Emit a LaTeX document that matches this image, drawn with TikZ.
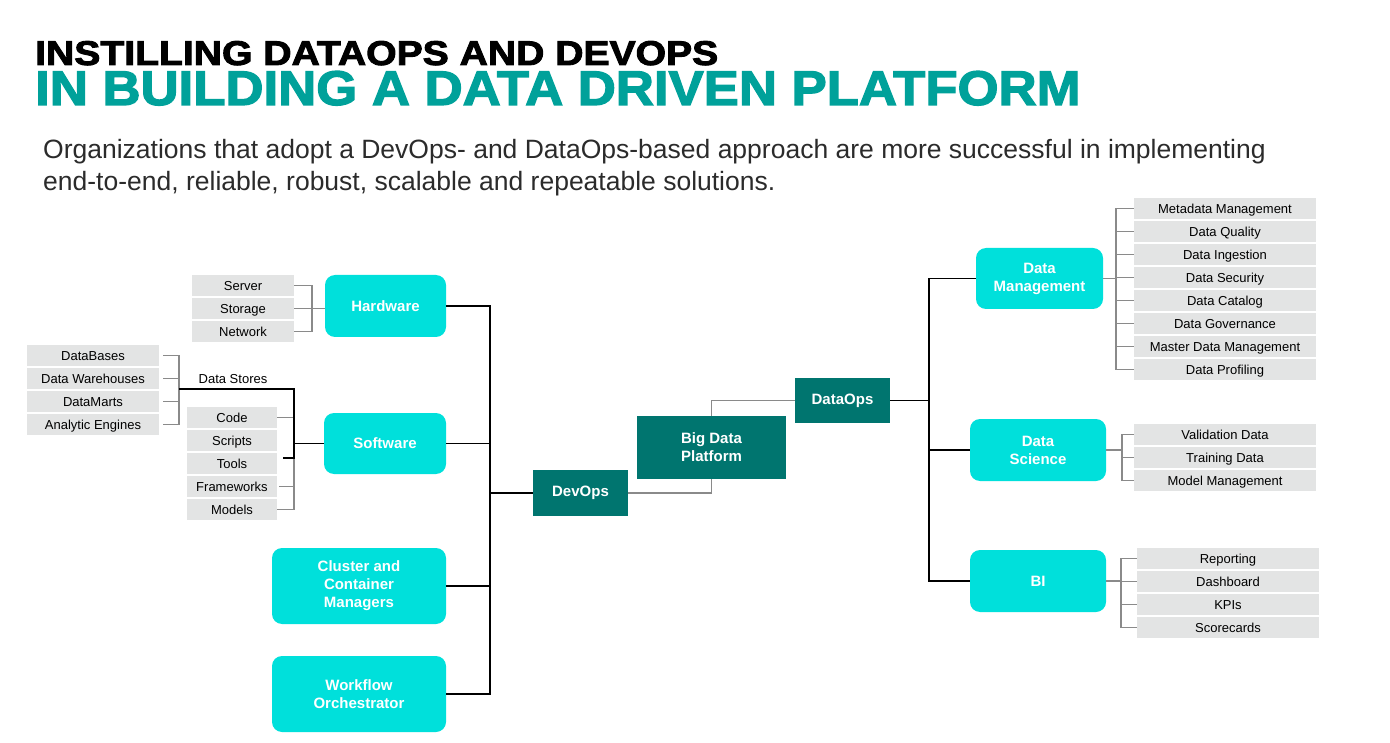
\documentclass[tikz,border=0pt]{standalone}
\usepackage{fontspec}
\setmainfont{Liberation Sans}
\newfontfamily\heavyfont[FakeBold=2.5]{Liberation Sans Bold}
\definecolor{cyanbox}{HTML}{00E0DB}
\definecolor{tealbox}{HTML}{00756F}
\definecolor{titleteal}{HTML}{00A19A}
\definecolor{itemgray}{HTML}{E3E4E4}
\definecolor{linegray}{HTML}{8A8A8A}
\definecolor{bodytext}{HTML}{2B2B2B}

\begin{document}
\begin{tikzpicture}[x=1pt,y=-1pt,
  mainbox/.style={fill=cyanbox,rounded corners=10pt,text=white,align=center,inner sep=0pt,font=\fontsize{15}{18}\selectfont\bfseries},
  opsbox/.style={fill=tealbox,text=white,align=center,inner sep=0pt,font=\fontsize{15}{18}\selectfont\bfseries},
  itembox/.style={fill=itemgray,minimum height=21pt,inner sep=0pt,text height=11.3pt,text depth=2pt,font=\fontsize{13}{15}\selectfont},
  gline/.style={draw=linegray,line width=1.1pt},
  bline/.style={draw=black,line width=1.4pt}]
\path[use as bounding box] (0,0) rectangle (1390,743);
% title and lead text
\node[anchor=base west,inner sep=0pt] (title1) at (35,65) {\resizebox{683pt}{24pt}{\heavyfont INSTILLING DATAOPS AND DEVOPS}};
\node[anchor=base west,inner sep=0pt,text=titleteal] (title2) at (35,105) {\resizebox{1045pt}{34pt}{\heavyfont IN BUILDING A DATA DRIVEN PLATFORM}};
\node[anchor=base west,inner sep=0pt,text=bodytext,font=\fontsize{26.5}{32}\selectfont] (lead1) at (43,159) {Organizations that adopt a DevOps- and DataOps-based approach are more successful in implementing};
\node[anchor=base west,inner sep=0pt,text=bodytext,font=\fontsize{26.5}{32}\selectfont] (lead2) at (43,191) {end-to-end, reliable, robust, scalable and repeatable solutions.};
% DevOps side
\node[mainbox,minimum width=121pt,minimum height=62pt] (hw) at (385.5,306) {Hardware};
\node[mainbox,minimum width=122pt,minimum height=61pt] (sw) at (385,443.5) {Software};
\node[mainbox,minimum width=174pt,minimum height=76pt] (cl) at (359,586) {Cluster and\\Container\\Managers};
\node[mainbox,minimum width=174pt,minimum height=76pt] (wf) at (359,694) {Workflow\\Orchestrator};
\node[itembox,minimum width=102pt] (hw1) at (243,285.5) {Server};
\node[itembox,minimum width=102pt] (hw2) at (243,308.5) {Storage};
\node[itembox,minimum width=102pt] (hw3) at (243,331.5) {Network};
\node[itembox,minimum width=132pt] (st1) at (93,355.5) {DataBases};
\node[itembox,minimum width=132pt] (st2) at (93,378.5) {Data Warehouses};
\node[itembox,minimum width=132pt] (st3) at (93,401.5) {DataMarts};
\node[itembox,minimum width=132pt] (st4) at (93,424.5) {Analytic Engines};
\node[itembox,minimum width=90pt] (sw1) at (232,417.5) {Code};
\node[itembox,minimum width=90pt] (sw2) at (232,440.5) {Scripts};
\node[itembox,minimum width=90pt] (sw3) at (232,463.5) {Tools};
\node[itembox,minimum width=90pt] (sw4) at (232,486.5) {Frameworks};
\node[itembox,minimum width=90pt] (sw5) at (232,509.5) {Models};
\coordinate (hwj) at (312,308.5);
\coordinate (stj) at (179,389);
\coordinate (swj) at (294,443.5);
\coordinate (swk) at (294,458);
\coordinate (dvj) at (490,493);
\draw[gline] (hw1.east) -| (hwj);
\draw[gline] (hw3.east) -| (hwj);
\draw[gline] (hw2.east) -- (hwj) -- (hwj -| hw.west);
\draw[gline] ([xshift=4pt]st1.east) -| (stj);
\draw[gline] ([xshift=4pt]st4.east) -| (stj);
\draw[gline] ([xshift=4pt]st2.east) -- (st2.east -| stj);
\draw[gline] ([xshift=4pt]st3.east) -- (st3.east -| stj);
\draw[gline] (sw1.east) -| (swj);
\draw[gline] (sw5.east) -| (swj);
\draw[gline] ([xshift=2pt]sw4.east) -- (sw4.east -| swj);
\draw[bline] (stj) -| (swk) -- ++(-11,0);
\node[anchor=base,inner sep=0pt,font=\fontsize{13}{15}\selectfont] (stlabel) at (233,384) {Data Stores};
\draw[bline] (swj) -- (sw.west);
\node[opsbox,minimum width=95pt,minimum height=46pt] (dev) at (580.5,493) {DevOps};
\draw[bline] (hw.east) -| (dvj);
\draw[bline] (wf.east) -| (dvj);
\draw[bline] (sw.east) -- (sw.east -| dvj);
\draw[bline] (cl.east) -- (cl.east -| dvj);
\draw[bline] (dvj) -- (dev.west);
% platform and DataOps
\node[opsbox,minimum width=149pt,minimum height=63pt] (bdp) at (711.5,447.5) {Big Data\\Platform};
\node[opsbox,minimum width=95pt,minimum height=45pt] (dops) at (842.5,400.5) {DataOps};
\draw[gline] (dev.east) -| (bdp.south);
\draw[gline] (bdp.north) |- (dops.west);
% DataOps side
\node[mainbox,minimum width=127pt,minimum height=61pt] (dm) at (1039.5,278.5) {Data\\Management};
\node[mainbox,minimum width=136pt,minimum height=62pt] (dsci) at (1038,450) {Data\\Science};
\node[mainbox,minimum width=136pt,minimum height=62pt] (bi) at (1038,581) {BI};
\coordinate (doj) at (929,400.5);
\draw[bline] (dops.east) -- (doj);
\draw[bline] (dm.west) -| (doj);
\draw[bline] (bi.west) -| (doj);
\draw[bline] (dsci.west) -- (dsci.west -| doj);
\node[itembox,minimum width=182pt] (dm1) at (1225,208.5) {Metadata Management};
\node[itembox,minimum width=182pt] (dm2) at (1225,231.5) {Data Quality};
\node[itembox,minimum width=182pt] (dm3) at (1225,254.5) {Data Ingestion};
\node[itembox,minimum width=182pt] (dm4) at (1225,277.5) {Data Security};
\node[itembox,minimum width=182pt] (dm5) at (1225,300.5) {Data Catalog};
\node[itembox,minimum width=182pt] (dm6) at (1225,323.5) {Data Governance};
\node[itembox,minimum width=182pt] (dm7) at (1225,346.5) {Master Data Management};
\node[itembox,minimum width=182pt] (dm8) at (1225,369.5) {Data Profiling};
\coordinate (dmj) at (1116,278.5);
\draw[gline] (dm.east) -- (dmj);
\draw[gline] (dm1.west) -| (dmj);
\draw[gline] (dm8.west) -| (dmj);
\draw[gline] (dm2.west) -- (dm2.west -| dmj);
\draw[gline] (dm3.west) -- (dm3.west -| dmj);
\draw[gline] (dm4.west) -- (dm4.west -| dmj);
\draw[gline] (dm5.west) -- (dm5.west -| dmj);
\draw[gline] (dm6.west) -- (dm6.west -| dmj);
\draw[gline] (dm7.west) -- (dm7.west -| dmj);
\node[itembox,minimum width=182pt] (dsci1) at (1225,434.5) {Validation Data};
\node[itembox,minimum width=182pt] (dsci2) at (1225,457.5) {Training Data};
\node[itembox,minimum width=182pt] (dsci3) at (1225,480.5) {Model Management};
\coordinate (dscij) at (1122,450);
\draw[gline] (dsci.east) -- (dscij);
\draw[gline] (dsci1.west) -| (dscij);
\draw[gline] (dsci3.west) -| (dscij);
\draw[gline] (dsci2.west) -- (dsci2.west -| dscij);
\node[itembox,minimum width=182pt] (bi1) at (1228,558.5) {Reporting};
\node[itembox,minimum width=182pt] (bi2) at (1228,581.5) {Dashboard};
\node[itembox,minimum width=182pt] (bi3) at (1228,604.5) {KPIs};
\node[itembox,minimum width=182pt] (bi4) at (1228,627.5) {Scorecards};
\coordinate (bij) at (1121,581);
\draw[gline] (bi.east) -- (bij);
\draw[gline] (bi1.west) -| (bij);
\draw[gline] (bi4.west) -| (bij);
\draw[gline] (bi2.west) -- (bi2.west -| bij);
\draw[gline] (bi3.west) -- (bi3.west -| bij);
\end{tikzpicture}
\end{document}
